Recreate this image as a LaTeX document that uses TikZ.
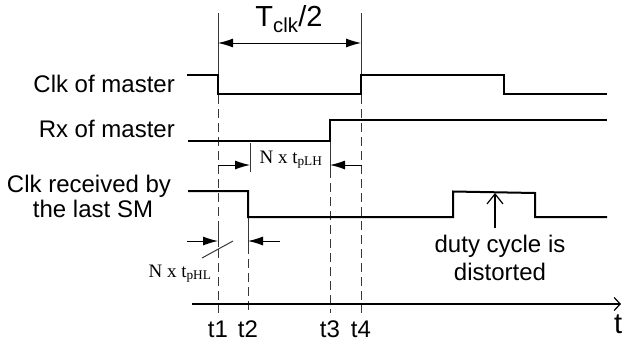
\documentclass[tikz,border=0pt]{standalone}
\usepackage{fontspec}
\setmainfont{Liberation Sans}
\newfontfamily\timesfont{Liberation Serif}
\usetikzlibrary{arrows.meta}
\definecolor{Ink}{RGB}{0,0,0}
\definecolor{Guide}{RGB}{55,55,55}
\tikzset{
  >=Latex,
  wave/.style={line width=2pt,draw=Ink,line join=miter},
  guide/.style={line width=1pt,draw=Guide,dash pattern=on 9pt off 5pt},
  ext/.style={line width=1pt,draw=Guide},
  dim/.style={-{Latex[length=15pt,width=9pt]},line width=1pt,draw=Ink},
  dimboth/.style={{Latex[length=15pt,width=9pt]}-{Latex[length=15pt,width=9pt]},line width=1pt,draw=Ink},
  axis/.style={-{Straight Barb[length=6pt,width=13pt]},line width=1.2pt,draw=Ink},
  pointer/.style={-{Straight Barb[length=10pt,width=16pt]},line width=1.2pt,draw=Ink},
  siglabel/.style={inner sep=0pt,font=\fontsize{24}{26}\selectfont,text=Ink},
  ticklabel/.style={inner sep=0pt,anchor=base,font=\fontsize{24}{26}\selectfont,text=Ink},
  biglabel/.style={inner sep=0pt,anchor=base,font=\fontsize{29}{32}\selectfont,text=Ink},
  note/.style={inner sep=0pt,anchor=base,font=\timesfont\fontsize{19}{21}\selectfont,text=Ink}
}
\begin{document}
\begin{tikzpicture}[x=1pt,y=-1pt]
  \useasboundingbox (0,0) rectangle (623,348);
  % time markers
  \draw[ext] (218,13)--(218,67);
  \draw[ext] (361,13)--(361,67);
  \draw[guide] (218,67)--(218,313);
  \draw[guide] (248,217)--(248,313);
  \draw[guide] (330,141)--(330,313);
  \draw[guide] (361,67)--(361,313);
  \draw[ext] (250,143)--(250,172);
  \draw[ext] (330,146)--(330,172);
  \draw[ext] (218,222)--(218,247);
  \draw[ext] (248,218)--(248,247);
  % signals
  \node[siglabel,anchor=base east] (clkm) at (175,92) {Clk of master};
  \node[siglabel,anchor=base east] (rxm) at (175,137) {Rx of master};
  \node[siglabel,anchor=base] (clksm) at (89,192) {Clk received by};
  \node[siglabel,anchor=base] (lastsm) at (93,217) {the last SM};
  \draw[wave] (187,75)-|(218,94)-|(361,75)-|(504,94)--(607,94);
  \draw[wave] (188,141)-|(330,120)--(607,120);
  \draw[wave] (188,191)-|(248,217)-|(453,191.5)--(535,193)--(535,217)--(607,217);
  % half period
  \coordinate (h1) at (218,43);
  \coordinate (h4) at (361,43);
  \draw[dimboth] (h1)--(h4);
  \node[biglabel] (half) at (289,26) {T\textsubscript{clk}/2};
  % rx delay
  \coordinate (r1) at (218,165);
  \coordinate (r2) at (250,165);
  \coordinate (r3) at (330,165);
  \coordinate (r4) at (362,165);
  \draw[dim] (r1)--(r2);
  \draw[dim] (r4)--(r3);
  \node[note] (plh) at (291,163) {N x t\textsubscript{pLH}};
  % clock delay
  \coordinate (d0) at (187,241);
  \coordinate (d1) at (218,241);
  \coordinate (d2) at (248,241);
  \coordinate (d3) at (280,241);
  \draw[dim] (d0)--(d1);
  \draw[dim] (d3)--(d2);
  \node[note] (phl) at (180,277) {N x t\textsubscript{pHL}};
  \coordinate (lead) at (233,241);
  \draw[ext] (202,258)--(lead);
  % distortion
  \node[siglabel,anchor=base] (duty) at (500,252) {duty cycle is};
  \node[siglabel,anchor=base] (dist) at (500,280) {distorted};
  \coordinate (ptail) at (495,228);
  \coordinate (phead) at (495,193);
  \draw[pointer] (ptail)--(phead);
  % time axis
  \coordinate (ax0) at (192,304);
  \coordinate (ax1) at (621,304);
  \draw[axis] (ax0)--(ax1);
  \node[biglabel,anchor=base west] (tt) at (614,333) {t};
  \foreach \x/\n in {218/1,248/2,330/3,361/4}
    \node[ticklabel] (t\n) at (\x,337) {t\n};
\end{tikzpicture}
\end{document}
